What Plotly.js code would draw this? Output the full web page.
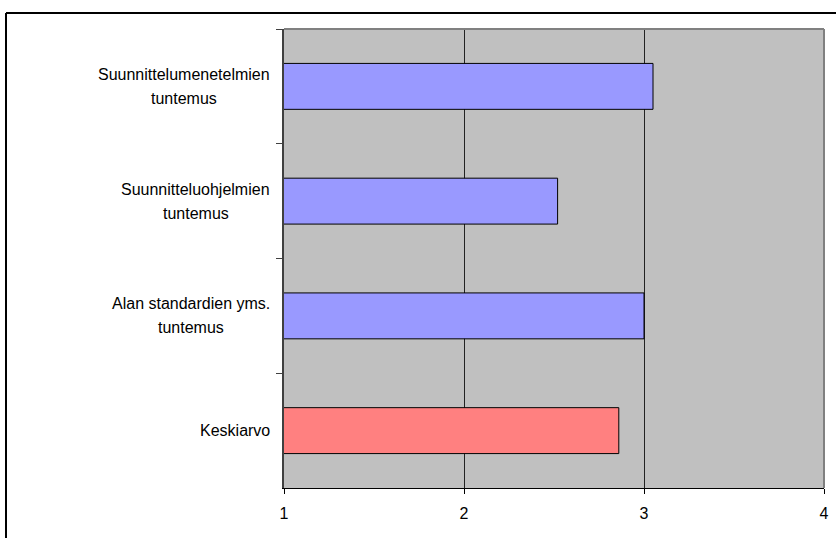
<!DOCTYPE html>
<html>
<head>
<meta charset="utf-8">
<script src="https://cdn.plot.ly/plotly-3.0.1.min.js"></script>
<style>html,body{margin:0;padding:0;background:#fff;}#chart{width:836px;height:538px;}</style>
</head>
<body>
<div id="chart"></div>
<script>
// ---- data ----
var categories = [
  "Suunnittelumenetelmien\ntuntemus",
  "Suunnitteluohjelmien\ntuntemus",
  "Alan standardien yms.\ntuntemus",
  "Keskiarvo"
];
var values = [3.05, 2.52, 3.0, 2.86];
var barColors = ["#9999FF", "#9999FF", "#9999FF", "#FF8080"];
var xTicks = [1, 2, 3, 4];

// ---- layout helpers ----
var W = 836, H = 538;
var mL = 284, mR = 12, mT = 29, mB = 50;
var pw = W - mL - mR, ph = H - mT - mB;
function px2x(px) { return (px - mL) / pw; }
function px2y(py) { return (H - mB - py) / ph; }

var FONT = '"Liberation Sans", Arial, sans-serif';
var FS = 16;
var canvas = document.createElement('canvas');
var ctx = canvas.getContext('2d');
ctx.font = FS + 'px "Liberation Sans"';

var annotations = [];
var labelRight = 270; // px
categories.forEach(function (c) {
  var lines = c.split('\n');
  var maxW = 0;
  lines.forEach(function (l) { maxW = Math.max(maxW, ctx.measureText(l).width); });
  var cx = labelRight - maxW / 2;
  var n = lines.length, spacing = 24;
  lines.forEach(function (l, j) {
    annotations.push({
      text: l, x: px2x(cx), xref: 'paper', y: c, yref: 'y',
      xanchor: 'center', yanchor: 'middle', showarrow: false,
      yshift: -((j - (n - 1) / 2) * spacing),
      font: { family: FONT, size: FS, color: '#000' }
    });
  });
});

var trace = {
  type: 'bar', orientation: 'h',
  y: categories, x: values,
  marker: { color: barColors, line: { color: '#000', width: 1 } },
  hoverinfo: 'none'
};

var layout = {
  width: W, height: H,
  margin: { l: mL, r: mR, t: mT, b: mB, pad: 0 },
  paper_bgcolor: '#fff', plot_bgcolor: '#C0C0C0',
  showlegend: false,
  bargap: 0.6,
  xaxis: {
    range: [1, 4], tickvals: xTicks, ticktext: xTicks.map(String),
    showgrid: true, gridcolor: '#222', gridwidth: 1,
    zeroline: false, showline: true, linecolor: '#000', linewidth: 1,
    ticks: 'outside', ticklen: 5, tickcolor: '#000', tickwidth: 1,
    ticklabelstandoff: 6,
    tickfont: { family: FONT, size: FS, color: '#000' }, fixedrange: true
  },
  yaxis: {
    type: 'category', autorange: 'reversed', tickson: 'boundaries',
    showticklabels: false, showgrid: false, zeroline: false,
    showline: true, linecolor: '#404040', linewidth: 2,
    ticks: 'outside', ticklen: 6, tickcolor: '#404040', tickwidth: 1,
    fixedrange: true
  },
  annotations: annotations,
  shapes: [
    { type: 'line', xref: 'paper', yref: 'paper', x0: 0, x1: 1, y0: 1, y1: 1, line: { color: '#808080', width: 2 }, layer: 'above' },
    { type: 'line', xref: 'paper', yref: 'paper', x0: 1, x1: 1, y0: 0, y1: 1, line: { color: '#808080', width: 2 }, layer: 'above' },
    { type: 'line', xref: 'paper', yref: 'paper', x0: px2x(6), x1: px2x(W + 5), y0: px2y(13), y1: px2y(13), line: { color: '#000', width: 2 }, layer: 'above' },
    { type: 'line', xref: 'paper', yref: 'paper', x0: px2x(6), x1: px2x(6), y0: px2y(13), y1: px2y(H + 5), line: { color: '#000', width: 2 }, layer: 'above' }
  ]
};

Plotly.newPlot('chart', [trace], layout, { displayModeBar: false, staticPlot: true });
</script>
</body>
</html>
